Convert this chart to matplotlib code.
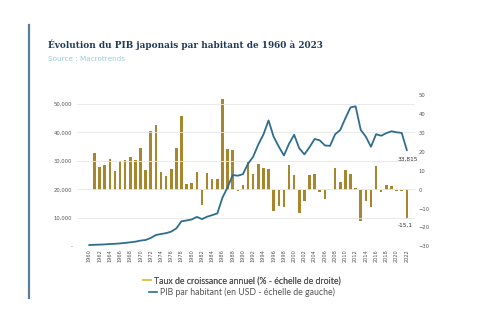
import matplotlib.pyplot as plt
from matplotlib.lines import Line2D
from matplotlib.ticker import FuncFormatter

years = list(range(1960, 2023))
pib = [475, 569, 634, 717, 835, 920, 1059, 1229, 1450, 1669,
       2037, 2272, 2967, 3997, 4354, 4659, 5198, 6335, 8821, 9105,
       9463, 10361, 9578, 10425, 10984, 11585, 17112, 20745, 25051, 24813,
       25359, 29048, 31466, 35766, 39269, 44198, 38437, 35022, 31903, 36026,
       39169, 34406, 32289, 34808, 37689, 37218, 35434, 35275, 39339, 40855,
       44968, 48760, 49145, 40898, 38475, 34961, 39375, 38834, 39751, 40416,
       40041, 39827, 33815]

growth_years = list(range(1961, 2023))
growth = [19.5, 12.1, 13.2, 16.1, 9.6, 14.9, 15.6, 17.0, 15.8, 21.9,
          10.2, 30.7, 34.2, 9.3, 7.2, 11.0, 21.9, 39.1, 2.8, 3.7,
          9.1, -7.9, 8.6, 5.4, 5.5, 47.7, 21.2, 20.8, -1.0, 2.2,
          14.5, 8.3, 13.7, 11.3, 11.0, -11.4, -8.9, -9.1, 12.9, 7.5,
          -12.2, -6.2, 7.8, 8.3, -1.2, -4.8, -0.4, 11.5, 3.9, 10.1,
          8.4, 0.8, -16.8, -5.9, -9.1, 12.6, -1.4, 2.4, 1.7, -0.9,
          -0.5, -15.1]

gold = '#a8862b'
blue = '#2e6d8e'

fig = plt.figure(figsize=(5, 3.33), dpi=100)

# decorative bar down the left side
fig.add_artist(Line2D([0.058, 0.058], [0.105, 0.925], color='#5a7f98', lw=1.6))

fig.text(0.096, 0.855, "Évolution du PIB japonais par habitant de 1960 à 2023",
         family='DejaVu Serif', fontsize=6.4, weight='bold', color='#1f3a58')
fig.text(0.097, 0.818, "Source : Macrotrends", fontsize=5.2, color='#9ccbdc')

ax = fig.add_axes([0.153, 0.26, 0.676, 0.455])
ax2 = ax.twinx()

ax.set_zorder(2)
ax.patch.set_visible(False)

ax2.bar(growth_years, growth, width=0.5, color=gold, zorder=2)
ax.plot(years, pib, color=blue, lw=1.3, zorder=3)

ax.set_xlim(1957.5, 2023.5)
ax.set_ylim(0, 53160)
ax2.set_ylim(-30, 50)

ax.set_yticks([0, 10000, 20000, 30000, 40000, 50000])
ax.yaxis.set_major_formatter(FuncFormatter(
    lambda v, p: '-' if v == 0 else f'{int(v):,}'))
ax2.set_yticks(range(-30, 51, 10))
ax.set_xticks(range(1960, 2023, 2))
ax.tick_params(axis='x', labelrotation=90, labelsize=3.6, length=0,
               pad=2, labelcolor='#555555')
ax.tick_params(axis='y', labelsize=3.8, length=0, pad=3, labelcolor='#555555')
ax2.tick_params(axis='y', labelsize=3.8, length=0, pad=3, labelcolor='#555555')

ax.grid(axis='y', color='#e6e6e6', lw=0.6)
ax.set_axisbelow(True)
for a in (ax, ax2):
    for s in a.spines.values():
        s.set_visible(False)

ax.annotate('33,815', (2022, pib[-1]), xytext=(1, -5), textcoords='offset points',
            ha='center', va='top', fontsize=4.2, color='#333333')
ax2.annotate('-15,1', (2022, growth[-1]), xytext=(-1, -3), textcoords='offset points',
             ha='center', va='top', fontsize=4.2, color='#333333')

handles1 = [Line2D([], [], color='#e2c341', lw=1.2)]
handles2 = [Line2D([], [], color=blue, lw=1.2)]
leg1 = fig.legend(handles1, ['Taux de croissance annuel (% - échelle de droite)'],
                  loc='center', bbox_to_anchor=(0.484, 0.157), frameon=False,
                  prop={'family': 'Lato', 'size': 6.3}, handlelength=0.9,
                  handletextpad=0.4, labelcolor='#555555')
leg2 = fig.legend(handles2, ['PIB par habitant (en USD - échelle de gauche)'],
                  loc='center', bbox_to_anchor=(0.484, 0.122), frameon=False,
                  prop={'family': 'Lato', 'size': 6.3}, handlelength=0.9,
                  handletextpad=0.4, labelcolor='#555555')
fig.add_artist(leg1)

fig.savefig('out.png', dpi=100, facecolor='white')
